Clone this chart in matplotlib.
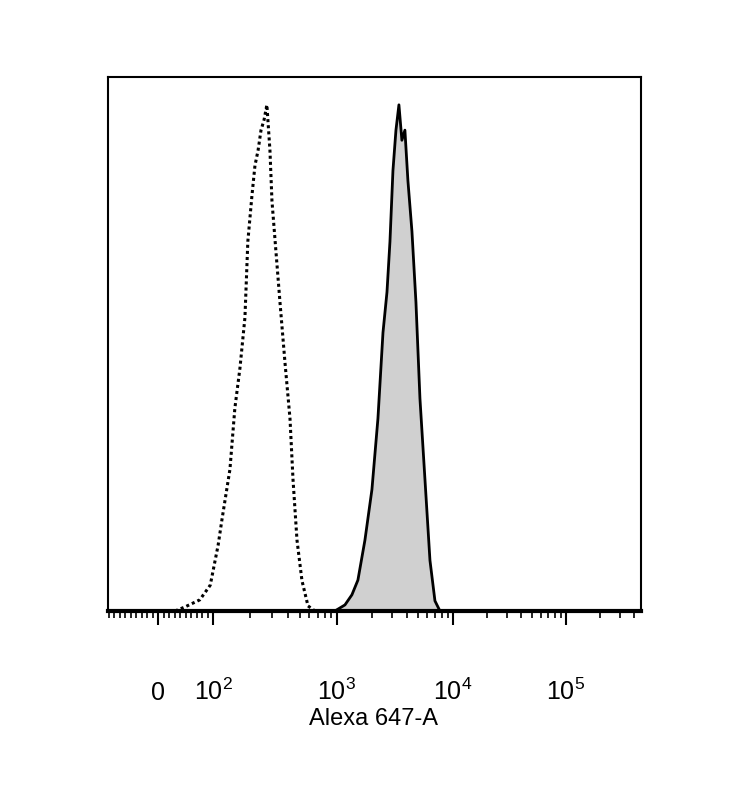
import numpy as np
import matplotlib.pyplot as plt
from matplotlib.ticker import FixedLocator, NullFormatter
from matplotlib.transforms import blended_transform_factory

plt.rcParams['font.family'] = ['Liberation Sans', 'DejaVu Sans']
plt.rcParams['mathtext.fontset'] = 'custom'
plt.rcParams['mathtext.rm'] = 'Liberation Sans'

# histogram traces (data units, percent of max)
ctrl_x = [31, 49, 76, 95, 110, 118, 137, 150, 165, 181, 191, 206, 218, 231, 244,
          258, 272, 288, 299, 322, 347, 381, 418, 442, 476, 522, 584, 665]
ctrl_y = [0, 0.8, 2.2, 5.1, 13, 18, 28, 40, 48, 58, 73, 82, 88, 91, 95,
          97, 100, 91, 81, 71, 61, 49, 38, 26, 14, 6, 1, 0]
stain_x = [963, 1172, 1346, 1516, 1743, 2003, 2256, 2494, 2700, 2865, 3040, 3227,
           3423, 3631, 3855, 4093, 4433, 4800, 5196, 5740, 6340, 7000, 7730]
stain_y = [0, 1.2, 3.2, 6.1, 14, 24, 38, 55, 63, 73, 87, 95,
           100, 93, 95, 85, 75, 61, 42, 26, 10, 2, 0]

major_vals = [0, 100, 1000, 1e4, 1e5]
major_labels = ['0', r'$10^2$', r'$10^3$', r'$10^4$', r'$10^5$']


def fwd(v):
    v = np.asarray(v, dtype=float)
    lg = np.log10(np.maximum(v, 100))
    hi = np.interp(lg, [2, 3, 4, 5], [213, 337, 453, 566])
    hi = np.where(lg > 5, 566 + (lg - 5) * 113, hi)
    return np.where(v < 100, 158 + v * 0.55, hi)


fig = plt.figure(figsize=(7.4, 7.97), dpi=100)
ax = fig.add_axes([0.146, 0.2334, 0.720, 0.670])

ax.fill_between(fwd(stain_x), stain_y, color='#d0d0d0', lw=0)
ax.plot(fwd(stain_x), stain_y, color='black', lw=2)
ax.plot(fwd(ctrl_x), ctrl_y, color='black', lw=2.2, ls=(0, (1, 1)))

ax.set_xlim(108, 641)
ax.set_ylim(0, 105.5)
ax.set_yticks([])

minors = [v for v in range(-90, 100, 10) if v != 0]
for d in [100, 1000, 1e4, 1e5]:
    minors += [d * k for k in range(2, 10)]
ax.xaxis.set_major_locator(FixedLocator(fwd(major_vals)))
ax.xaxis.set_minor_locator(FixedLocator([p for p in fwd(minors) if 108 < p < 641]))
ax.xaxis.set_major_formatter(NullFormatter())
ax.xaxis.set_minor_formatter(NullFormatter())
ax.tick_params(axis='x', which='major', length=10, width=1.5)
ax.tick_params(axis='x', which='minor', length=5, width=1.2)
for s in ax.spines.values():
    s.set_linewidth(1.5)
ax.spines['bottom'].set_linewidth(3)

tr = blended_transform_factory(ax.transData, fig.transFigure)
for pos, lab in zip(fwd(major_vals), major_labels):
    ax.text(pos, 0.122, lab, transform=tr, ha='center', va='baseline', fontsize=18)

fig.text(0.505, 0.09, 'Alexa 647-A', ha='center', va='baseline', fontsize=17)

fig.savefig('out.png', dpi=100)
